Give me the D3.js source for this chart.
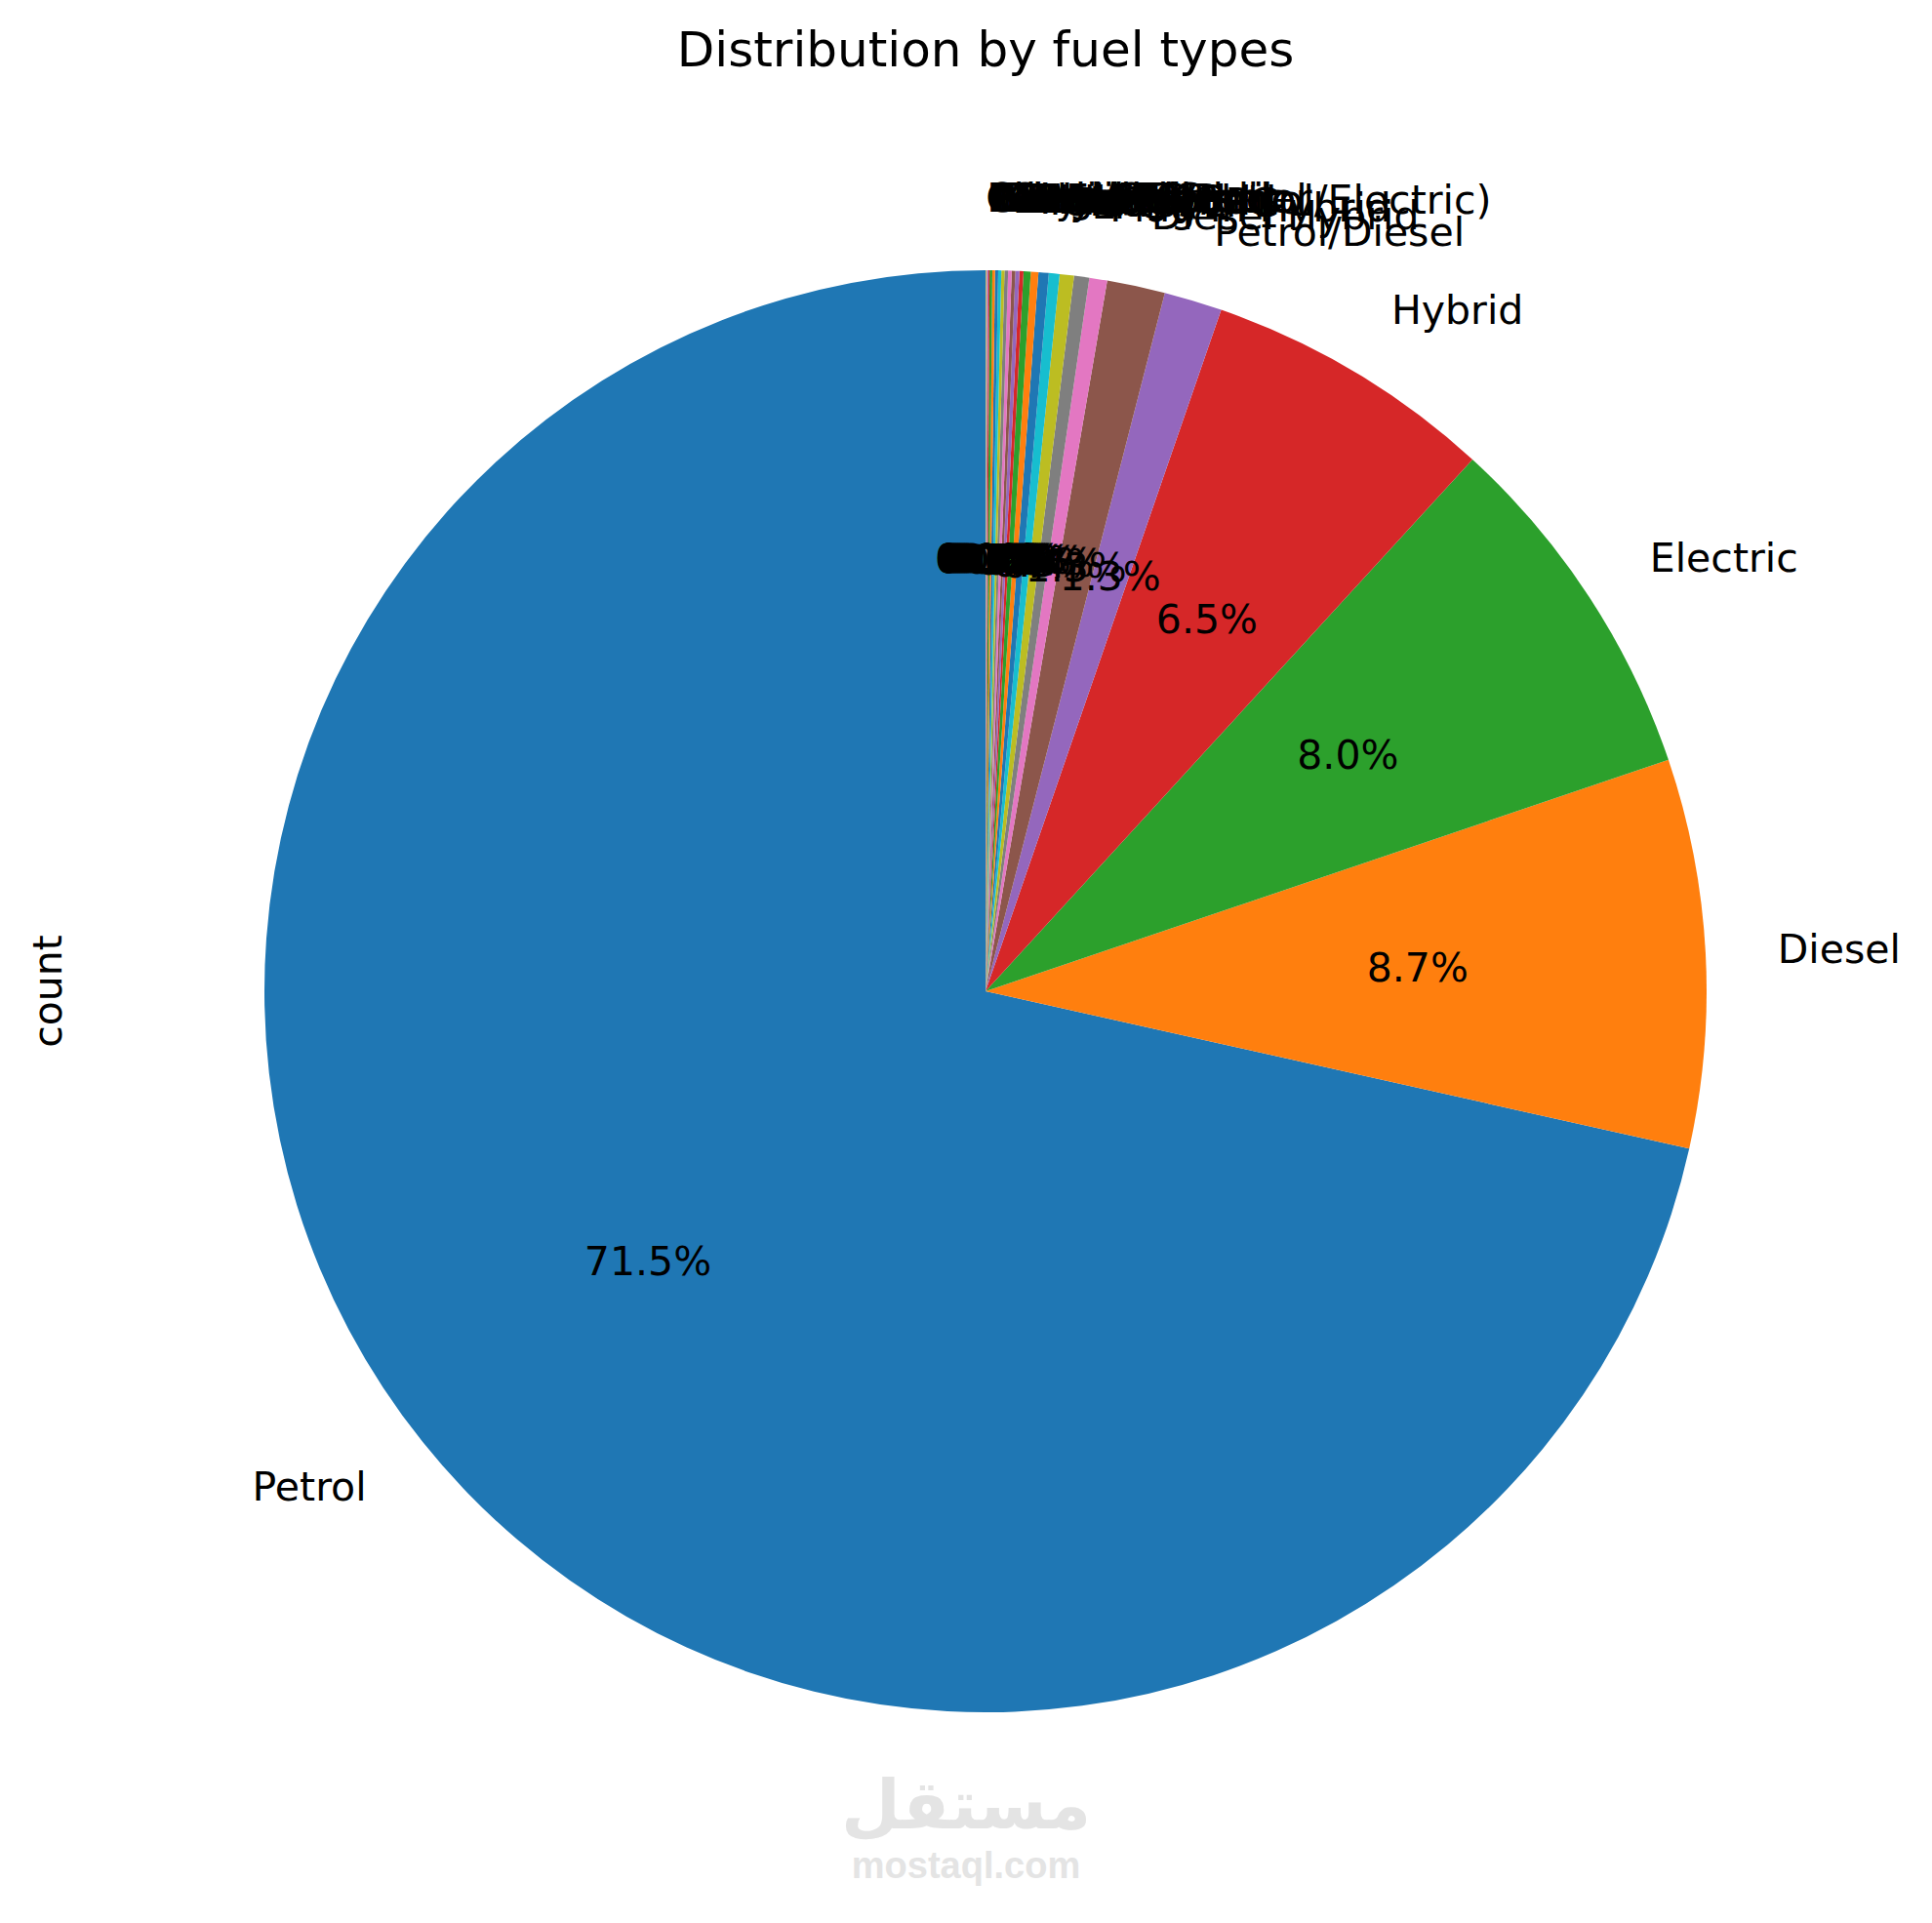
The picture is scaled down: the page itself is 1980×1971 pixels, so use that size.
<!DOCTYPE html>
<html>
<head>
<meta charset="utf-8">
<script src="https://cdn.jsdelivr.net/npm/d3@7"></script>
<style>
  body { margin: 0; background: #fff; }
  svg { display: block; }
</style>
</head>
<body>
<div id="chart"></div>
<script>
// Fuel types, in value_counts order (largest first)
const fuelTypes = [
  "Petrol", "Diesel", "Electric", "Hybrid", "Petrol/Diesel", "Diesel Hybrid",
  "Plug-in Hybrid", "LPG", "Petrol/LPG", "CNG", "Mild Hybrid", "Hybrid (Petrol/Electric)",
  "Electric/Petrol", "Hydrogen", "Ethanol", "Flex Fuel", "Bi-Fuel", "Gasoline",
  "Petrol/Electric", "Diesel/Electric", "Biodiesel", "Natural Gas", "Range Extender",
  "Petrol/Hybrid", "Electric/Diesel", "Petrol/CNG",
  "Kerosene", "Gas", "Other"
];

// Counts
const fuelCounts = [
  7150, 870, 800, 650, 130, 130,
  40, 34, 32, 24, 23, 17,
  16, 9, 9, 8, 8, 8,
  7, 7, 7, 6, 6,
  3, 2, 1,
  1, 1, 1
];

const titleText = "Distribution by fuel types";
const yLabel = "count";

// Chart dimensions
const W = 1980, H = 1971;
const cx = 1010, cy = 1016, R = 739;

const data = fuelTypes.map((name, i) => ({ name: name, count: fuelCounts[i] }));
const total = d3.sum(data, d => d.count);

const svg = d3.select("#chart")
  .append("svg")
  .attr("width", W)
  .attr("height", H)
  .attr("font-family", "'DejaVu Sans', sans-serif");

// matplotlib tab10 cycle
const color = d3.scaleOrdinal()
  .domain(fuelTypes)
  .range(d3.schemeCategory10);

// startangle=90, counter-clockwise
const pie = d3.pie()
  .sort(null)
  .value(d => d.count)
  .startAngle(0)
  .endAngle(-2 * Math.PI);

const arcs = pie(data);

const arc = d3.arc()
  .innerRadius(0)
  .outerRadius(R);

const g = svg.append("g")
  .attr("transform", `translate(${cx},${cy})`);

// Wedges
g.selectAll("path.slice")
  .data(arcs)
  .enter()
  .append("path")
  .attr("class", "slice")
  .attr("d", arc)
  .attr("fill", d => color(d.data.name));

function mid(d) {
  return (d.startAngle + d.endAngle) / 2;
}

// Category labels at 1.1 R
g.selectAll("text.name")
  .data(arcs)
  .enter()
  .append("text")
  .attr("class", "name")
  .attr("x", d => 1.1 * R * Math.sin(mid(d)))
  .attr("y", d => -1.1 * R * Math.cos(mid(d)))
  .attr("text-anchor", d => Math.sin(mid(d)) >= 0 ? "start" : "end")
  .attr("dominant-baseline", "central")
  .attr("font-size", 41)
  .attr("fill", "#000")
  .text(d => d.data.name);

// Percentages at 0.6 R
const fmt = d3.format(".1f");
g.selectAll("text.pct")
  .data(arcs)
  .enter()
  .append("text")
  .attr("class", "pct")
  .attr("x", d => 0.6 * R * Math.sin(mid(d)))
  .attr("y", d => -0.6 * R * Math.cos(mid(d)))
  .attr("text-anchor", "middle")
  .attr("dominant-baseline", "central")
  .attr("font-size", 41)
  .attr("fill", "#000")
  .text(d => fmt(d.data.count / total * 100) + "%");

// Title
svg.append("text")
  .attr("x", cx)
  .attr("y", 68)
  .attr("text-anchor", "middle")
  .attr("font-size", 50)
  .text(titleText);

// y label
svg.append("text")
  .attr("transform", `translate(63,${cy}) rotate(-90)`)
  .attr("text-anchor", "middle")
  .attr("font-size", 41)
  .text(yLabel);

// Watermark
svg.append("text")
  .attr("x", 990)
  .attr("y", 1874)
  .attr("text-anchor", "middle")
  .attr("font-size", 70)
  .attr("font-weight", "bold")
  .attr("fill", "#e4e4e4")
  .text("مستقل");

svg.append("text")
  .attr("x", 990)
  .attr("y", 1925)
  .attr("text-anchor", "middle")
  .attr("font-family", "'Liberation Sans', Arial, sans-serif")
  .attr("font-size", 38)
  .attr("font-weight", "bold")
  .attr("fill", "#e4e4e4")
  .text("mostaql.com");
</script>
</body>
</html>
